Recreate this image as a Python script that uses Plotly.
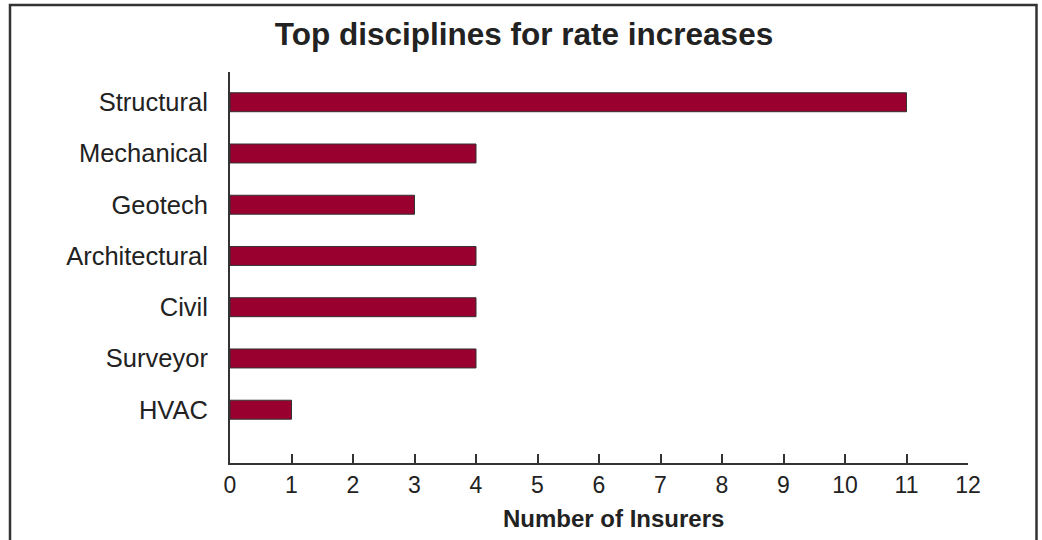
import plotly.graph_objects as go

categories = ["Structural", "Mechanical", "Geotech", "Architectural", "Civil", "Surveyor", "HVAC"]
values = [11, 4, 3, 4, 4, 4, 1]
x_ticks = list(range(0, 13))

W, H = 1042, 540
ML, MR, MT, MB = 230, 74, 72, 77
PW, PH = W - ML - MR, H - MT - MB

def px_x(x):
    return (x - ML) / PW

def px_y(y):
    return (H - MB - y) / PH

n = len(categories)
ypos = [n - 1 - i for i in range(n)]

fig = go.Figure(go.Bar(
    x=values, y=ypos, orientation="h", width=0.37,
    marker=dict(color="#990030", line=dict(color="#333333", width=1)),
    hoverinfo="skip",
))

font = "Liberation Sans, Arial, sans-serif"
fig.update_layout(
    width=W, height=H,
    margin=dict(l=ML, r=MR, t=MT, b=MB),
    paper_bgcolor="white", plot_bgcolor="white",
    showlegend=False,
    font=dict(family=font, color="#222222"),
    title=dict(text="<b>Top disciplines for rate increases</b>",
               x=524 / W, xanchor="center", y=1 - 34 / H, yanchor="middle",
               font=dict(size=31.5, family=font, color="#222222")),
    xaxis=dict(range=[0, 12], tickvals=x_ticks, ticktext=[str(t) for t in x_ticks],
               showgrid=False, zeroline=False, showline=True, linecolor="#333333", linewidth=2,
               ticks="inside", ticklen=9, tickwidth=2, tickcolor="#333333",
               tickfont=dict(size=23, family=font, color="#222222")),
    yaxis=dict(range=[-1.04, 6.59], tickvals=ypos, ticktext=categories,
               showgrid=False, zeroline=False, showline=True, linecolor="#333333", linewidth=2,
               ticks="", ticklabelstandoff=15,
               tickfont=dict(size=25.5, family=font, color="#222222")),
    annotations=[dict(text="<b>Number of Insurers</b>", xref="paper", yref="paper",
                      x=px_x(613.5), y=px_y(518), xanchor="center", yanchor="middle",
                      showarrow=False, font=dict(size=24, family=font, color="#222222"))],
    shapes=[dict(type="rect", xref="paper", yref="paper",
                 x0=px_x(10), x1=px_x(1036.5), y0=px_y(560), y1=px_y(5),
                 line=dict(color="#333333", width=2.5), fillcolor="rgba(0,0,0,0)", layer="above")],
)

fig.write_html("out.html")
